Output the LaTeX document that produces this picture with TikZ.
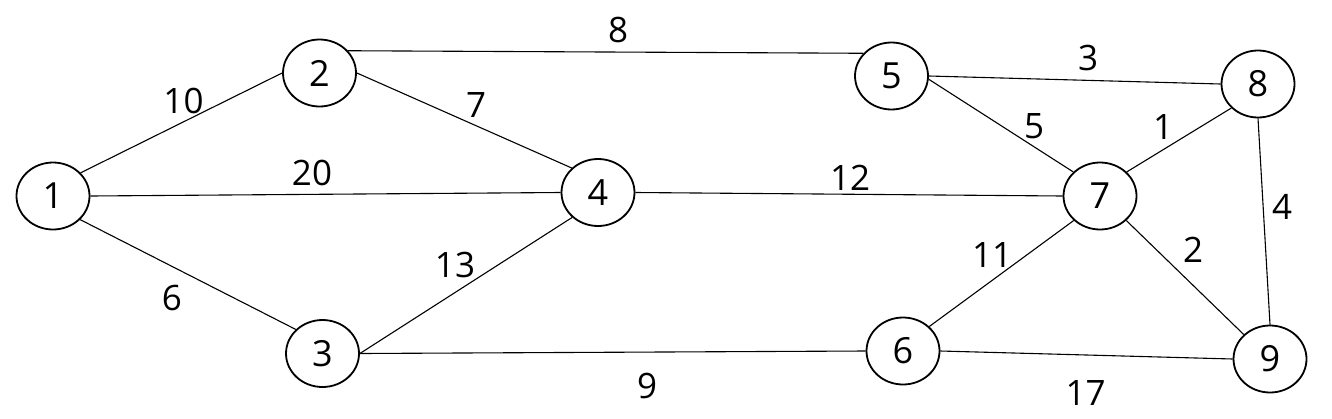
\documentclass[tikz,border=0pt]{standalone}
\usepackage{fontspec}
\setmainfont{Open Sans}
\usetikzlibrary{shapes.geometric}
\begin{document}
\begin{tikzpicture}[x=1pt,y=-1pt,
  vertex/.style={ellipse,draw,line width=1.8pt,minimum width=73pt,minimum height=67pt,inner sep=0pt,font=\fontsize{36}{36}\selectfont},
  edge/.style={line width=1.1pt},
  wlabel/.style={font=\fontsize{35}{35}\selectfont,inner sep=0pt}]
\useasboundingbox (0,0) rectangle (1332,418);
\node[vertex] (n1) at (53,196) {1};
\node[vertex] (n2) at (319.5,73) {2};
\node[vertex] (n3) at (322.5,353.5) {3};
\node[vertex] (n4) at (598,192.5) {4};
\node[vertex] (n5) at (891.5,76) {5};
\node[vertex] (n6) at (903,351) {6};
\node[vertex] (n7) at (1100,196) {7};
\node[vertex] (n8) at (1258,84) {8};
\node[vertex] (n9) at (1270,359) {9};
\draw[edge] (n1.40) -- (n2.west);
\draw[edge] (n1.east) -- (n4.west);
\draw[edge] (n1.-41) -- (n3.138);
\draw[edge] (n2.38) -- (n5.141);
\draw[edge] (n2.east) -- (n4.137);
\draw[edge] (n3.east) -- (n4.224);
\draw[edge] (n3.east) -- (n6.west);
\draw[edge] (n4.east) -- (n7.west);
\draw[edge] (n5.east) -- (n8.west);
\draw[edge] (n5.-5) -- (n7.138);
\draw[edge] (n7.42) -- (n8.222);
\draw[edge] (n7.223) -- (n6.43);
\draw[edge] (n7.-43) -- (n9.137);
\draw[edge] (n8.south) -- (n9.north);
\draw[edge] (n6.east) -- (n9.west);
\node[wlabel] (l12) at (183.5,100.5) {10};
\node[wlabel] (l14) at (312,173) {20};
\node[wlabel] (l13) at (172,298) {6};
\node[wlabel] (l25) at (618,29.5) {8};
\node[wlabel] (l24) at (476,105) {7};
\node[wlabel] (l34) at (455,265) {13};
\node[wlabel] (l36) at (647,386) {9};
\node[wlabel] (l47) at (850,178) {12};
\node[wlabel] (l58) at (1088,58) {3};
\node[wlabel] (l57) at (1034,126) {5};
\node[wlabel] (l78) at (1163,127) {1};
\node[wlabel] (l76) at (992,255) {11};
\node[wlabel] (l79) at (1193,250) {2};
\node[wlabel] (l89) at (1282,207) {4};
\node[wlabel] (l69) at (1085.5,393) {17};
\end{tikzpicture}
\end{document}
